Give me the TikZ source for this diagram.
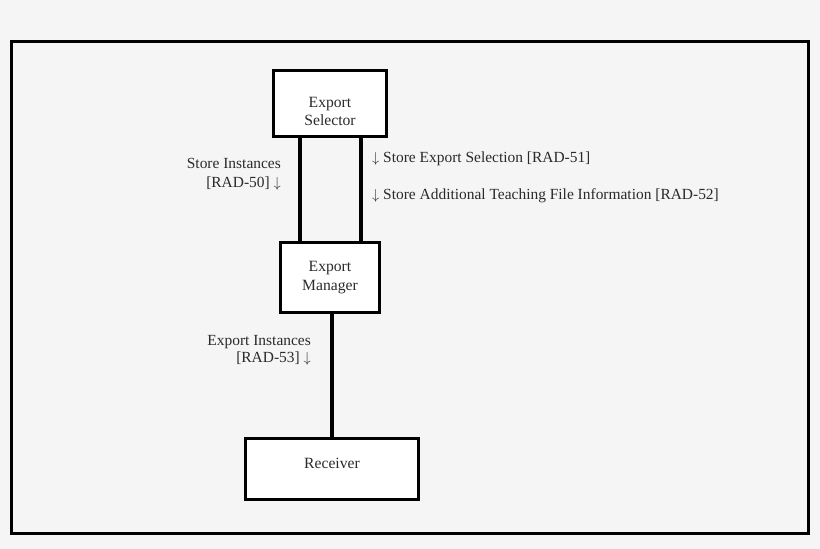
\documentclass[tikz,border=0pt]{standalone}
\usepackage{fontspec}
\setmainfont{Liberation Serif}
\definecolor{bgc}{HTML}{F5F5F5}
\definecolor{txt}{HTML}{2A2A2A}
\begin{document}
\begin{tikzpicture}[x=1bp,y=-1bp,
  box/.style={draw=black, line width=3bp, fill=white, inner sep=0pt},
  boxtext/.style={inner sep=0pt, align=center, text=txt, font=\fontsize{15.7}{18.5}\selectfont},
  lbl/.style={inner sep=0pt, text=txt, font=\fontsize{15.5}{19}\selectfont},
  wire/.style={draw=black, line width=3.5bp}]
\fill[bgc] (0,0) rectangle (820,549);
\useasboundingbox (0,0) rectangle (820,549);
\node[draw=black, line width=2.5bp, minimum width=797bp, minimum height=492bp, inner sep=0pt] (frame) at (409.8,287.5) {};
\node[box, minimum width=113bp, minimum height=66bp,
  label={[boxtext, yshift=-7.5bp]center:Export\\Selector}] (sel) at (330,104) {};
\node[box, minimum width=99bp, minimum height=70bp,
  label={[boxtext]center:Export\\Manager}] (mgr) at (330,277.5) {};
\node[box, minimum width=173bp, minimum height=61bp,
  label={[boxtext, yshift=5.5bp]center:Receiver}] (rcv) at (332,469) {};
\coordinate (lx) at (300,0);
\coordinate (rx) at (361,0);
\coordinate (mx) at (332,0);
\draw[wire] (sel.south -| lx) -- (mgr.north -| lx);
\draw[wire] (sel.south -| rx) -- (mgr.north -| rx);
\draw[wire] (mgr.south -| mx) -- (rcv.north -| mx);
\node[lbl, align=right, anchor=north east] (l50) at (281,158) {Store Instances\\{}[RAD-50] $\downarrow$};
\node[lbl, anchor=base west] (l51) at (372,163) {$\downarrow$ Store Export Selection [RAD-51]};
\node[lbl, anchor=base west] (l52) at (372,200) {$\downarrow$ Store Additional Teaching File Information [RAD-52]};
\node[lbl, align=right, anchor=north east, font=\fontsize{15.5}{17}\selectfont] (l53) at (311,335) {Export Instances\\{}[RAD-53] $\downarrow$};
\end{tikzpicture}
\end{document}
